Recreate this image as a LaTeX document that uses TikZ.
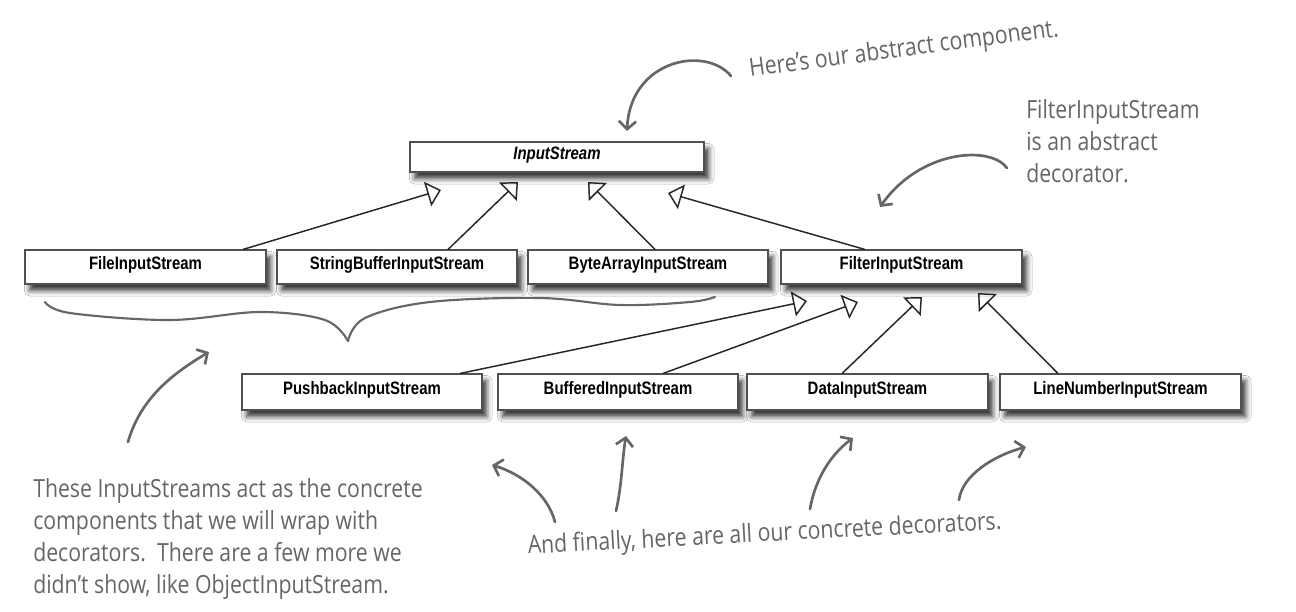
\documentclass[tikz,border=0pt]{standalone}
\usepackage{fontspec}
\usetikzlibrary{arrows.meta,shadows.blur,calc}
\newfontfamily\boxfont[FakeStretch=0.83]{Liberation Sans}
\newfontfamily\handfont[FakeStretch=0.85]{Open Sans}
\definecolor{handgray}{HTML}{666666}
\definecolor{boxline}{HTML}{505050}
\begin{document}
\begin{tikzpicture}[x=0.75pt,y=-0.75pt,
  cls/.style={draw=boxline, line width=0.8pt, fill=white,
    font=\boxfont\bfseries\fontsize{13.5}{16}\selectfont,
    inner sep=0pt, text height=3pt, text depth=0pt,
    blur shadow={shadow xshift=3.5pt, shadow yshift=-5pt, shadow blur radius=4pt, shadow opacity=80}},
  gen/.style={draw=black!85, line width=1.1pt,
    -{Triangle[open, length=10.5pt, width=19pt, line width=1.1pt]}},
  handarrow/.style={draw=handgray, line width=2pt, line cap=round,
    -{Straight Barb[length=6pt, width=13pt, line width=2pt]}},
  note/.style={text=handgray, font=\handfont\fontsize{18.75}{24}\selectfont, inner sep=0pt}]
\fill[white] (0,0) rectangle (1296,611);
\useasboundingbox (0,0) rectangle (1296,611);

% classes
\node[cls, minimum width={294*0.75pt}, minimum height={30*0.75pt}] (is) at (557,157) {\itshape InputStream};
\node[cls, minimum width={241*0.75pt}, minimum height={34*0.75pt}] (file) at (145.5,267) {FileInputStream};
\node[cls, minimum width={240*0.75pt}, minimum height={34*0.75pt}] (sb) at (397,267) {StringBufferInputStream};
\node[cls, minimum width={240*0.75pt}, minimum height={34*0.75pt}] (ba) at (648,267) {ByteArrayInputStream};
\node[cls, minimum width={241*0.75pt}, minimum height={34*0.75pt}] (fis) at (901.5,267) {FilterInputStream};
\node[cls, minimum width={240*0.75pt}, minimum height={36*0.75pt}] (pb) at (362,392) {PushbackInputStream};
\node[cls, minimum width={240*0.75pt}, minimum height={36*0.75pt}] (bu) at (618,392) {BufferedInputStream};
\node[cls, minimum width={241*0.75pt}, minimum height={36*0.75pt}] (di) at (867.5,392) {DataInputStream};
\node[cls, minimum width={241*0.75pt}, minimum height={36*0.75pt}] (ln) at (1120.5,392) {LineNumberInputStream};

% arrow tips (just below the parent)
\coordinate (t1) at (441,190);
\coordinate (t2) at (518,182);
\coordinate (t3) at (588,182);
\coordinate (t4) at (668,193);
\coordinate (t5) at (807,301);
\coordinate (t6) at (858,302);
\coordinate (t7) at (922,297);
\coordinate (t8) at (978,293);

\draw[gen] ([xshift=73.1pt]file.north) -- (t1);
\draw[gen] ([xshift=38.25pt]sb.north) -- (t2);
\draw[gen] ([xshift=5.25pt]ba.north) -- (t3);
\draw[gen] ([xshift=-27.4pt]fis.north) -- (t4);
\draw[gen] ([xshift=73.5pt]pb.north) -- (t5);
\draw[gen] ([xshift=33.75pt]bu.north) -- (t6);
\draw[gen] ([xshift=-19.1pt]di.north) -- (t7);
\draw[gen] ([xshift=-46.9pt]ln.north) -- (t8);

% brace under the concrete components
\draw[handgray, line width=1.6pt, line cap=round, line join=round]
  plot[smooth, tension=0.6] coordinates {(45,302) (70,313) (170,320) (260,312) (325,320) (348,341)};
\draw[handgray, line width=1.6pt, line cap=round, line join=round]
  plot[smooth, tension=0.6] coordinates {(348,341) (365,318) (430,302) (540,298) (620,305) (690,302) (715,297)};

% notes
\node[note, anchor=base west, rotate=7.5] (here) at (750,77) {Here’s our abstract component.};
\node[note, anchor=north west, align=left] (filtnote) at (1026,99) {FilterInputStream\\is an abstract\\decorator.};
\node[note, anchor=north west, align=left] (concnote) at (33,478) {These InputStreams act as the concrete\\components that we will wrap with\\decorators.\ \ There are a few more we\\didn’t show, like ObjectInputStream.};
\node[note, anchor=base west, rotate=3] (decnote) at (528,554) {And finally, here are all our concrete decorators.};

% hand-drawn pointers
\coordinate (a1s) at (731,76);   \coordinate (a1e) at (627,131);
\coordinate (a2s) at (1007,168); \coordinate (a2e) at (880,207);
\coordinate (a3s) at (128,442);  \coordinate (a3e) at (209,352);
\coordinate (a4s) at (555,522);  \coordinate (a4e) at (492,465);
\coordinate (a5s) at (616,511);  \coordinate (a5e) at (626,436);
\coordinate (a6s) at (810,509);  \coordinate (a6e) at (853,438);
\coordinate (a7s) at (959,500);  \coordinate (a7e) at (1026,447);

\draw[handarrow] (a1s) .. controls (705,45) and (630,60) .. (a1e);
\draw[handarrow] (a2s) .. controls (990,145) and (920,150) .. (a2e);
\draw[handarrow] (a3s) .. controls (140,400) and (170,375) .. (a3e);
\draw[handarrow] (a4s) .. controls (548,495) and (522,474) .. (a4e);
\draw[handarrow] (a5s) .. controls (622,485) and (622,460) .. (a5e);
\draw[handarrow] (a6s) .. controls (815,480) and (830,455) .. (a6e);
\draw[handarrow] (a7s) .. controls (962,475) and (995,455) .. (a7e);
\end{tikzpicture}
\end{document}
